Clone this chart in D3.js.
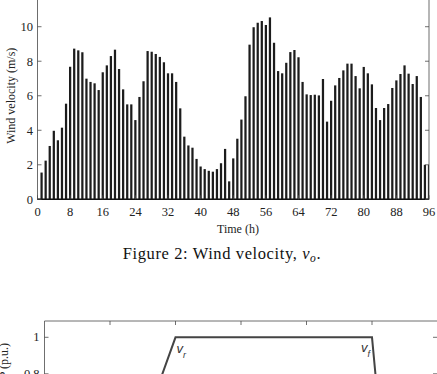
<!DOCTYPE html>
<html>
<head>
<meta charset="utf-8">
<script src="https://cdn.jsdelivr.net/npm/d3@7"></script>
<style>
	body { margin: 0; background: white; }
	svg { display: block; }
	.tick-label { font-family: 'Liberation Serif', serif; font-size: 12.5px; fill: #222; }
	.axis-title { font-family: 'Liberation Serif', serif; font-size: 12px; fill: #222; }
	.caption { font-family: 'Liberation Serif', serif; font-size: 16.5px; letter-spacing: 0.6px; fill: #111; }
	.curve-label { font-family: 'Liberation Sans', sans-serif; font-size: 13px; font-style: italic; fill: #333; }
</style>
</head>
<body>
<svg id="chart" width="437" height="374"></svg>
<script>
// hourly wind velocity (m/s), hours 1..96
const hours = d3.range(1, 97);
const windVelocity = [
	1.55, 2.24, 3.09, 3.97, 3.42, 4.15, 5.54, 7.68, 8.73, 8.63, 8.52, 6.99,
	6.80, 6.72, 6.33, 7.36, 7.76, 8.30, 8.67, 7.55, 6.37, 5.50, 5.50, 4.59,
	5.93, 6.84, 8.59, 8.55, 8.42, 8.25, 7.94, 7.30, 7.30, 6.80, 5.27, 3.63,
	3.12, 2.99, 2.34, 1.90, 1.75, 1.65, 1.60, 1.75, 2.09, 2.92, 1.04, 2.37,
	3.51, 4.62, 5.97, 8.96, 9.97, 10.23, 10.33, 10.10, 10.54, 9.07, 7.43, 7.30,
	7.91, 8.53, 8.65, 8.23, 6.80, 6.08, 6.04, 6.06, 6.02, 6.97, 4.50, 5.71,
	6.60, 7.03, 7.47, 7.86, 7.86, 7.14, 6.43, 7.67, 7.30, 6.66, 5.29, 4.59,
	5.29, 5.52, 6.45, 6.89, 7.26, 7.76, 7.28, 6.68, 7.14, 5.93, 2.00, 2.00,
];
const xTicks = d3.range(0, 97, 8);
const yTicks = [0, 2, 4, 6, 8, 10];

// power curve of the next figure (only its top is in view)
const curveSpeed = [1, 2, 5, 5.26];
const curvePower = [0, 1, 1, 0];
const curveXTicks = [1, 2, 3, 4, 5, 6];
const curveYTicks = [0.8, 1];

const svg = d3.select('#chart');
const axisColor = '#4a4a4a';

// ---- Figure 2: bars ----
const plot = { left: 37.5, right: 429, top: -7.8, bottom: 199.3 };
const x = d3.scaleLinear().domain([0, 96]).range([plot.left, plot.right]);
const y = d3.scaleLinear().domain([0, 12]).range([plot.bottom, plot.top]);

svg.append('defs').append('clipPath')
	.attr('id', 'barClip')
	.append('rect')
	.attr('x', plot.left)
	.attr('y', plot.top)
	.attr('width', plot.right - plot.left)
	.attr('height', plot.bottom - plot.top);

const barWidth = (x(1) - x(0)) * 0.55;
svg.append('g')
	.attr('clip-path', 'url(#barClip)')
	.selectAll('rect').data(hours).enter().append('rect')
	.attr('x', (d) => x(d) - barWidth / 2)
	.attr('y', (d, i) => y(windVelocity[i]))
	.attr('width', barWidth)
	.attr('height', (d, i) => y(0) - y(windVelocity[i]))
	.attr('fill', '#1c1c1c');

// box
svg.append('rect')
	.attr('x', plot.left)
	.attr('y', plot.top)
	.attr('width', plot.right - plot.left)
	.attr('height', plot.bottom - plot.top)
	.attr('fill', 'none')
	.attr('stroke', axisColor)
	.attr('stroke-width', 0.8);
svg.append('line')
	.attr('x1', plot.left).attr('x2', plot.right)
	.attr('y1', plot.bottom).attr('y2', plot.bottom)
	.attr('stroke', '#111')
	.attr('stroke-width', 1.6);

// ticks pointing inwards
const tickLen = 4;
svg.append('g').selectAll('line').data(yTicks).enter().append('line')
	.attr('x1', plot.left).attr('x2', plot.left + tickLen)
	.attr('y1', (d) => y(d)).attr('y2', (d) => y(d))
	.attr('stroke', axisColor).attr('stroke-width', 0.8);
svg.append('g').selectAll('line').data(yTicks).enter().append('line')
	.attr('x1', plot.right - tickLen).attr('x2', plot.right)
	.attr('y1', (d) => y(d)).attr('y2', (d) => y(d))
	.attr('stroke', axisColor).attr('stroke-width', 0.8);
svg.append('g').selectAll('line').data(xTicks).enter().append('line')
	.attr('x1', (d) => x(d)).attr('x2', (d) => x(d))
	.attr('y1', plot.bottom).attr('y2', plot.bottom - tickLen)
	.attr('stroke', axisColor).attr('stroke-width', 0.8);

svg.append('g').selectAll('text').data(yTicks).enter().append('text')
	.attr('class', 'tick-label')
	.attr('x', plot.left - 4.5)
	.attr('y', (d) => y(d))
	.attr('dy', '0.35em')
	.attr('text-anchor', 'end')
	.text((d) => d);
svg.append('g').selectAll('text').data(xTicks).enter().append('text')
	.attr('class', 'tick-label')
	.attr('x', (d) => x(d))
	.attr('y', 216)
	.attr('text-anchor', 'middle')
	.text((d) => d);

svg.append('text')
	.attr('class', 'axis-title')
	.attr('transform', `translate(15,${(plot.top + plot.bottom) / 2}) rotate(-90)`)
	.attr('text-anchor', 'middle')
	.text('Wind velocity (m/s)');
svg.append('text')
	.attr('class', 'axis-title')
	.attr('x', 238)
	.attr('y', 233)
	.attr('text-anchor', 'middle')
	.text('Time (h)');

const caption = svg.append('text')
	.attr('class', 'caption')
	.attr('x', 222)
	.attr('y', 259)
	.attr('text-anchor', 'middle');
caption.append('tspan').text('Figure 2: Wind velocity, ');
caption.append('tspan').attr('font-style', 'italic').text('v');
caption.append('tspan').attr('font-style', 'italic').attr('font-size', '11.5px').attr('dy', 3).text('o');
caption.append('tspan').attr('dy', -3).text('.');

// ---- next figure: power curve, cut by the window ----
const px = d3.scaleLinear().domain([0, 7]).range([44.5, 44.5 + 7 * 65.5]);
const py = d3.scaleLinear().domain([0.8, 1]).range([373.8, 337.3]);
const box2 = { left: 44.5, top: 321 };

svg.append('line')
	.attr('x1', box2.left).attr('x2', 437)
	.attr('y1', box2.top).attr('y2', box2.top)
	.attr('stroke', axisColor).attr('stroke-width', 0.8);
svg.append('line')
	.attr('x1', box2.left).attr('x2', box2.left)
	.attr('y1', box2.top).attr('y2', 374)
	.attr('stroke', axisColor).attr('stroke-width', 0.8);
svg.append('g').selectAll('line').data(curveXTicks).enter().append('line')
	.attr('x1', (d) => px(d)).attr('x2', (d) => px(d))
	.attr('y1', box2.top).attr('y2', box2.top + tickLen)
	.attr('stroke', axisColor).attr('stroke-width', 0.8);
svg.append('g').selectAll('line').data(curveYTicks).enter().append('line')
	.attr('x1', box2.left).attr('x2', box2.left + tickLen)
	.attr('y1', (d) => py(d)).attr('y2', (d) => py(d))
	.attr('stroke', axisColor).attr('stroke-width', 0.8);
svg.append('g').selectAll('line').data(curveYTicks).enter().append('line')
	.attr('x1', 437 - tickLen).attr('x2', 437)
	.attr('y1', (d) => py(d)).attr('y2', (d) => py(d))
	.attr('stroke', axisColor).attr('stroke-width', 0.8);
svg.append('g').selectAll('text').data(curveYTicks).enter().append('text')
	.attr('class', 'tick-label')
	.attr('x', box2.left - 5)
	.attr('y', (d) => py(d))
	.attr('dy', '0.3em')
	.attr('text-anchor', 'end')
	.text((d) => d);
svg.append('text')
	.attr('class', 'axis-title')
	.attr('transform', 'translate(8,343) rotate(-90)')
	.attr('text-anchor', 'end')
	.text('P (p.u.)');

const powerLine = d3.line()
	.x((d, i) => px(curveSpeed[i]))
	.y((d, i) => py(curvePower[i]));
svg.append('path')
	.attr('d', powerLine(curveSpeed))
	.attr('fill', 'none')
	.attr('stroke', '#444')
	.attr('stroke-width', 2)
	.attr('stroke-linejoin', 'miter');

const labelR = svg.append('text')
	.attr('class', 'curve-label')
	.attr('x', px(2) + 1)
	.attr('y', py(1) + 16);
labelR.append('tspan').text('v');
labelR.append('tspan').attr('font-size', '9px').attr('dy', 5).text('r');
const labelF = svg.append('text')
	.attr('class', 'curve-label')
	.attr('x', px(5) - 11)
	.attr('y', py(1) + 15);
labelF.append('tspan').text('v');
labelF.append('tspan').attr('font-size', '9px').attr('dy', 5).text('f');
</script>
</body>
</html>
